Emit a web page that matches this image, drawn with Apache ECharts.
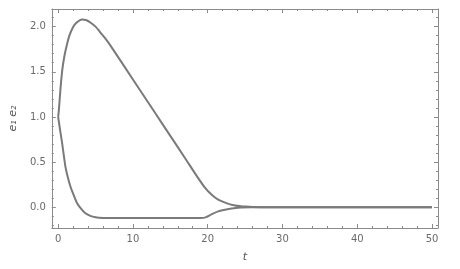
<!DOCTYPE html>
<html>
<head>
<meta charset="utf-8">
<script src="https://cdn.jsdelivr.net/npm/echarts@6/dist/echarts.min.js"></script>
<style>html,body{margin:0;padding:0;background:#fff}#c{width:460px;height:269px}</style>
</head>
<body>
<div id="c"></div>
<script>
// e1(t)
var tE1 = [0, 0.1, 0.3, 0.55, 0.85, 1.2, 1.5, 1.9, 2.4, 3.2, 3.8, 4.4, 5.0, 5.6, 6.3, 7.0, 9.0, 11, 13, 15, 17, 18.5, 19.6, 20.5, 21.4, 22.5, 23.5, 24.5, 26, 28, 35, 50];
var e1  = [1.0, 1.08, 1.3, 1.52, 1.68, 1.81, 1.9, 1.98, 2.04, 2.08, 2.07, 2.04, 2.0, 1.94, 1.87, 1.79, 1.54, 1.29, 1.04, 0.79, 0.54, 0.35, 0.22, 0.14, 0.083, 0.045, 0.022, 0.01, 0.003, 0.0, 0.0, 0.0];
// e2(t)
var tE2 = [0, 0.25, 0.53, 0.97, 1.3, 1.64, 2.0, 2.5, 3.0, 3.6, 4.3, 5.0, 6.0, 7.2, 12, 19.1, 19.8, 20.5, 21.4, 22.5, 23.5, 24.5, 26, 35, 50];
var e2  = [1.0, 0.86, 0.71, 0.45, 0.33, 0.23, 0.15, 0.05, -0.01, -0.064, -0.095, -0.11, -0.118, -0.12, -0.12, -0.12, -0.11, -0.08, -0.046, -0.025, -0.012, -0.004, 0.0, 0.0, 0.0];
// ticks
var xMajor = [0, 10, 20, 30, 40, 50];
var xMinor = [2, 4, 6, 8, 12, 14, 16, 18, 22, 24, 26, 28, 32, 34, 36, 38, 42, 44, 46, 48];
var yMajor = [0, 0.5, 1.0, 1.5, 2.0];
var yMinor = [-0.2, -0.1, 0.1, 0.2, 0.3, 0.4, 0.6, 0.7, 0.8, 0.9, 1.1, 1.2, 1.3, 1.4, 1.6, 1.7, 1.8, 1.9, 2.1];

var frameColor = '#8a8a8a';
var labelColor = '#6a6a6a';
var lineColor = '#7a7a7a';
var font = 'DejaVu Sans';
var X_MIN = -0.85, X_MAX = 50.8, Y_MIN = -0.23, Y_MAX = 2.195;

function axis(kind, pos, vals, len, showLine, showLabel) {
  return {
    type: 'value', position: pos, min: kind === 'x' ? X_MIN : Y_MIN, max: kind === 'x' ? X_MAX : Y_MAX,
    splitLine: {show: false},
    axisLine: {show: showLine, onZero: false, lineStyle: {color: frameColor, width: 1}},
    axisTick: {show: true, inside: true, length: len, customValues: vals, lineStyle: {color: frameColor, width: 1}},
    axisLabel: {show: showLabel, customValues: vals, color: labelColor, fontFamily: font, fontSize: 10, margin: 6,
      formatter: function (v) { return kind === 'x' ? String(Math.round(v)) : v.toFixed(1); }}
  };
}

var xAxes = [
  axis('x', 'bottom', xMajor, 4, true, true),
  axis('x', 'bottom', xMinor, 2, false, false),
  axis('x', 'top', xMajor, 4, true, false),
  axis('x', 'top', xMinor, 2, false, false)
];
xAxes[0].name = 't';
xAxes[0].nameLocation = 'middle';
xAxes[0].nameGap = 24;
xAxes[0].nameTextStyle = {color: '#555', fontFamily: font, fontSize: 11, fontStyle: 'italic'};

var yAxes = [
  axis('y', 'left', yMajor, 4, true, true),
  axis('y', 'left', yMinor, 2, false, false),
  axis('y', 'right', yMajor, 4, true, false),
  axis('y', 'right', yMinor, 2, false, false)
];
yAxes[0].name = 'e\u2081 e\u2082';
yAxes[0].nameLocation = 'middle';
yAxes[0].nameGap = 30;
yAxes[0].nameTextStyle = {color: '#555', fontFamily: font, fontSize: 11, fontStyle: 'italic'};

function mk(ts, vs) { return ts.map(function (t, i) { return [t, vs[i]]; }); }

var chart = echarts.init(document.getElementById('c'), null, {renderer: 'canvas'});
chart.setOption({
  animation: false,
  grid: {left: 49, right: 22, top: 9, bottom: 41, containLabel: false},
  xAxis: xAxes,
  yAxis: yAxes,
  series: [
    {type: 'line', name: 'e1', data: mk(tE1, e1), showSymbol: false, smooth: 0.25,
     lineStyle: {color: lineColor, width: 2}, xAxisIndex: 0, yAxisIndex: 0},
    {type: 'line', name: 'e2', data: mk(tE2, e2), showSymbol: false, smooth: 0.25,
     lineStyle: {color: lineColor, width: 2}, xAxisIndex: 0, yAxisIndex: 0}
  ]
});
</script>
</body>
</html>
